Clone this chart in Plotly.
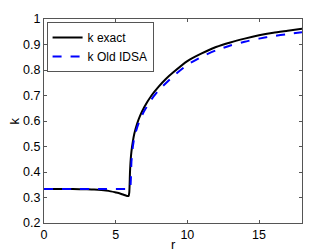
import plotly.graph_objects as go

# k exact
r_exact = [0, 1, 2, 3, 3.5, 4, 4.5, 5, 5.3, 5.6, 5.8, 5.9, 5.95, 6.0, 6.05, 6.1,
           6.2, 6.3, 6.5, 6.7, 7, 7.5, 8, 8.5, 9, 10, 11, 12, 13, 14, 15, 16, 17, 18]
k_exact = [0.333, 0.333, 0.333, 0.332, 0.331, 0.329, 0.326, 0.320, 0.316, 0.310,
           0.306, 0.306, 0.32, 0.40, 0.45, 0.48, 0.52, 0.55, 0.59, 0.62, 0.655,
           0.70, 0.735, 0.765, 0.79, 0.835, 0.865, 0.89, 0.908, 0.923, 0.936,
           0.946, 0.954, 0.962]

# k Old IDSA
r_old = [0, 2, 4, 5, 5.9, 6.0, 6.05, 6.1, 6.15, 6.2, 6.3, 6.5, 6.7, 7, 7.5, 8,
         9, 10, 11, 12, 13, 14, 15, 16, 17, 18]
k_old = [0.333, 0.333, 0.333, 0.333, 0.333, 0.333, 0.36, 0.44, 0.47, 0.50, 0.535,
         0.575, 0.605, 0.64, 0.685, 0.72, 0.775, 0.82, 0.852, 0.877, 0.896,
         0.911, 0.923, 0.933, 0.941, 0.948]

x_ticks = [0, 5, 10, 15]
y_ticks = [0.2, 0.3, 0.4, 0.5, 0.6, 0.7, 0.8, 0.9, 1.0]
y_labels = ["0.2", "0.3", "0.4", "0.5", "0.6", "0.7", "0.8", "0.9", "1"]

fig = go.Figure()
fig.add_trace(go.Scatter(x=r_exact, y=k_exact, mode="lines", name="k exact",
                         line=dict(color="black", width=2, shape="spline", smoothing=0.6)))
fig.add_trace(go.Scatter(x=r_old, y=k_old, mode="lines", name="k Old IDSA",
                         line=dict(color="blue", width=2, dash="dash", shape="spline", smoothing=0.6)))

axis_style = dict(showline=True, linecolor="#555", linewidth=1, mirror="ticks",
                  ticks="inside", ticklen=3, tickcolor="#555", showgrid=False,
                  zeroline=False, automargin=False,
                  tickfont=dict(size=12.5, color="black"))

# page body has an 8px margin, so the figure is offset by 8px
fig.update_layout(
    width=318, height=243,
    margin=dict(l=36, r=24, t=11, b=28),
    paper_bgcolor="white", plot_bgcolor="white",
    font=dict(family="Liberation Sans, Arial", size=12.5, color="black"),
    xaxis=dict(range=[0, 18], tickvals=x_ticks, **axis_style),
    yaxis=dict(range=[0.2, 1.0], tickvals=y_ticks, ticktext=y_labels, **axis_style),
    legend=dict(x=0.01, y=0.985, xanchor="left", yanchor="top",
                bgcolor="white", bordercolor="#555", borderwidth=1,
                font=dict(size=12), tracegroupgap=0, itemwidth=30),
    showlegend=True,
)

# axis titles as annotations (automargin is off, so titles would collide with ticks)
fig.add_annotation(text="r", xref="paper", yref="paper", x=0.5, y=-0.105,
                   xanchor="center", yanchor="middle", showarrow=False,
                   font=dict(size=13))
fig.add_annotation(text="k", xref="paper", yref="paper", x=-0.118, y=0.5,
                   xanchor="center", yanchor="middle", textangle=-90,
                   showarrow=False, font=dict(size=13))

fig.write_html("out.html")
